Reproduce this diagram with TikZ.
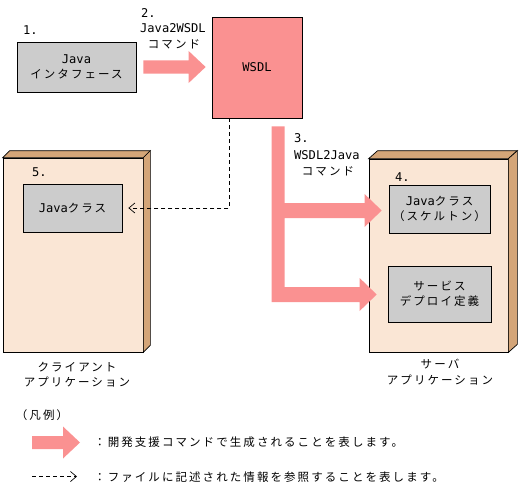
\documentclass[tikz,border=0pt]{standalone}
\usepackage{fontspec}
\setmainfont{Noto Sans CJK JP}[LetterSpace=18]
\newfontfamily\lat{DejaVu Sans Mono}[Scale=1.05]
\usetikzlibrary{calc,arrows.meta}
\definecolor{boxgray}{RGB}{204,204,204}
\definecolor{wsdlpink}{RGB}{250,145,145}
\definecolor{arrowpink}{RGB}{250,145,145}
\definecolor{peach}{RGB}{250,230,213}
\definecolor{tan}{RGB}{212,165,120}
\newcommand\fatarr[2]{\fill[arrowpink] let \p1=#1, \p2=#2 in
 (\x1,\y1+6.5pt) -- (\x2-17pt,\y1+6.5pt) -- (\x2-17pt,\y1+16pt) -- (\x2,\y1)
 -- (\x2-17pt,\y1-16pt) -- (\x2-17pt,\y1-6.5pt) -- (\x1,\y1-6.5pt) -- cycle;}
\begin{document}
\begin{tikzpicture}[x=1pt,y=-1pt,
  txt/.style={inner sep=0pt, align=center, font=\fontsize{11.5}{15}\selectfont},
  graybox/.style={draw=black, line width=0.7pt, fill=boxgray, inner sep=0pt, align=center, font=\fontsize{11.5}{15}\selectfont},
  front/.style={draw=black, line width=0.7pt, fill=peach, inner sep=0pt},
  face/.style={draw=black, line width=0.7pt, fill=tan},
  refline/.style={dashed, dash pattern=on 4pt off 3pt, line width=0.7pt, -{Straight Barb[length=6pt,width=10pt]}}]
\useasboundingbox (0,0) rectangle (519,487);

% boxes
\node[graybox, minimum width=119pt, minimum height=50pt] (jif) at (76.5,67) {{\lat Java}\\インタフェース};
\node[draw=black, line width=0.7pt, fill=wsdlpink, minimum width=90pt, minimum height=101pt, inner sep=0pt, font=\lat\fontsize{11.5}{15}\selectfont] (wsdl) at (257,67.5) {WSDL};

% client application
\node[front, minimum width=140pt, minimum height=194pt] (cf) at (73,255) {};
\filldraw[face] (cf.north west) -- ++(7,-7) -- ($(cf.north east)+(7,-7)$) -- (cf.north east) -- cycle;
\filldraw[face] (cf.north east) -- ++(7,-7) -- ($(cf.south east)+(7,-7)$) -- (cf.south east) -- cycle;
\node[graybox, minimum width=99pt, minimum height=48pt] (ci) at (72.5,208) {{\lat Java}クラス};

% server application
\node[front, minimum width=139pt, minimum height=193pt] (sf) at (438.5,255.5) {};
\filldraw[face] (sf.north west) -- ++(9,-8) -- ($(sf.north east)+(9,-8)$) -- (sf.north east) -- cycle;
\filldraw[face] (sf.north east) -- ++(9,-8) -- ($(sf.south east)+(9,-8)$) -- (sf.south east) -- cycle;
\node[graybox, minimum width=101pt, minimum height=48pt] (si1) at (439.5,209) {{\lat Java}クラス\\（スケルトン）};
\node[graybox, minimum width=103pt, minimum height=56pt] (si2) at (439.5,294) {サービス\\デプロイ定義};

% labels
\node[txt, anchor=west, font=\lat\fontsize{11.5}{15}\selectfont] (l1) at (23,30) {1.};
\node[txt, anchor=west, font=\lat\fontsize{11.5}{15}\selectfont] (l2) at (141,13) {2.};
\node[txt, anchor=west, font=\lat\fontsize{11.5}{15}\selectfont] (l2b) at (140,28.5) {Java2WSDL};
\node[txt] (l2c) at (174,44) {コマンド};
\node[txt, anchor=west, font=\lat\fontsize{11.5}{15}\selectfont] (l3) at (294,138) {3.};
\node[txt, anchor=west, font=\lat\fontsize{11.5}{15}\selectfont] (l3b) at (294,155) {WSDL2Java};
\node[txt] (l3c) at (328,171) {コマンド};
\node[txt, anchor=west, font=\lat\fontsize{11.5}{15}\selectfont] (l4) at (395,177) {4.};
\node[txt, anchor=west, font=\lat\fontsize{11.5}{15}\selectfont] (l5) at (32,172) {5.};
\node[txt] (cl1) at (77,367) {クライアント};
\node[txt] (cl2) at (77,382.5) {アプリケーション};
\node[txt] (sl1) at (440,364) {サーバ};
\node[txt] (sl2) at (440,380) {アプリケーション};

% Java2WSDL arrow
\fatarr{($(jif.east)+(7,0)$)}{($(wsdl.west)+(-6,0)$)}

% WSDL2Java branching arrow
\coordinate (bartop) at ($(wsdl.south west)+(60,8)$);
\fill[arrowpink] let \p1=(bartop), \p2=(si1.west), \p3=(si2.west) in
 (\x1,\y1) -- (\x1+13pt,\y1) -- (\x1+13pt,\y2+6pt) -- (\x2-24pt,\y2+6pt) -- (\x2-24pt,\y2+15pt)
 -- (\x2-7pt,\y2-1.5pt) -- (\x2-24pt,\y2-18pt) -- (\x2-24pt,\y2-9pt) -- (\x1+13pt,\y2-9pt)
 -- (\x1+13pt,\y3+7pt) -- (\x3-28pt,\y3+7pt) -- (\x3-28pt,\y3+16pt) -- (\x3-11pt,\y3-0.5pt)
 -- (\x3-28pt,\y3-17pt) -- (\x3-28pt,\y3-8pt) -- (\x1,\y3-8pt) -- cycle;

% reference line
\draw[refline] ($(wsdl.south west)+(18,0)$) |- ([xshift=6pt]ci.east);

% legend
\node[txt] (leg) at (42,415) {（凡例）};
\coordinate (la1) at (32,442.5);
\coordinate (la2) at (80,442.5);
\fatarr{(la1)}{(la2)}
\node[txt, anchor=west] (lt1) at (94,442) {：開発支援コマンドで生成されることを表します。};
\coordinate (lb1) at (32,476.5);
\coordinate (lb2) at (77,476.5);
\draw[refline] (lb1) -- (lb2);
\node[txt, anchor=west] (lt2) at (94,477) {：ファイルに記述された情報を参照することを表します。};
\end{tikzpicture}
\end{document}
